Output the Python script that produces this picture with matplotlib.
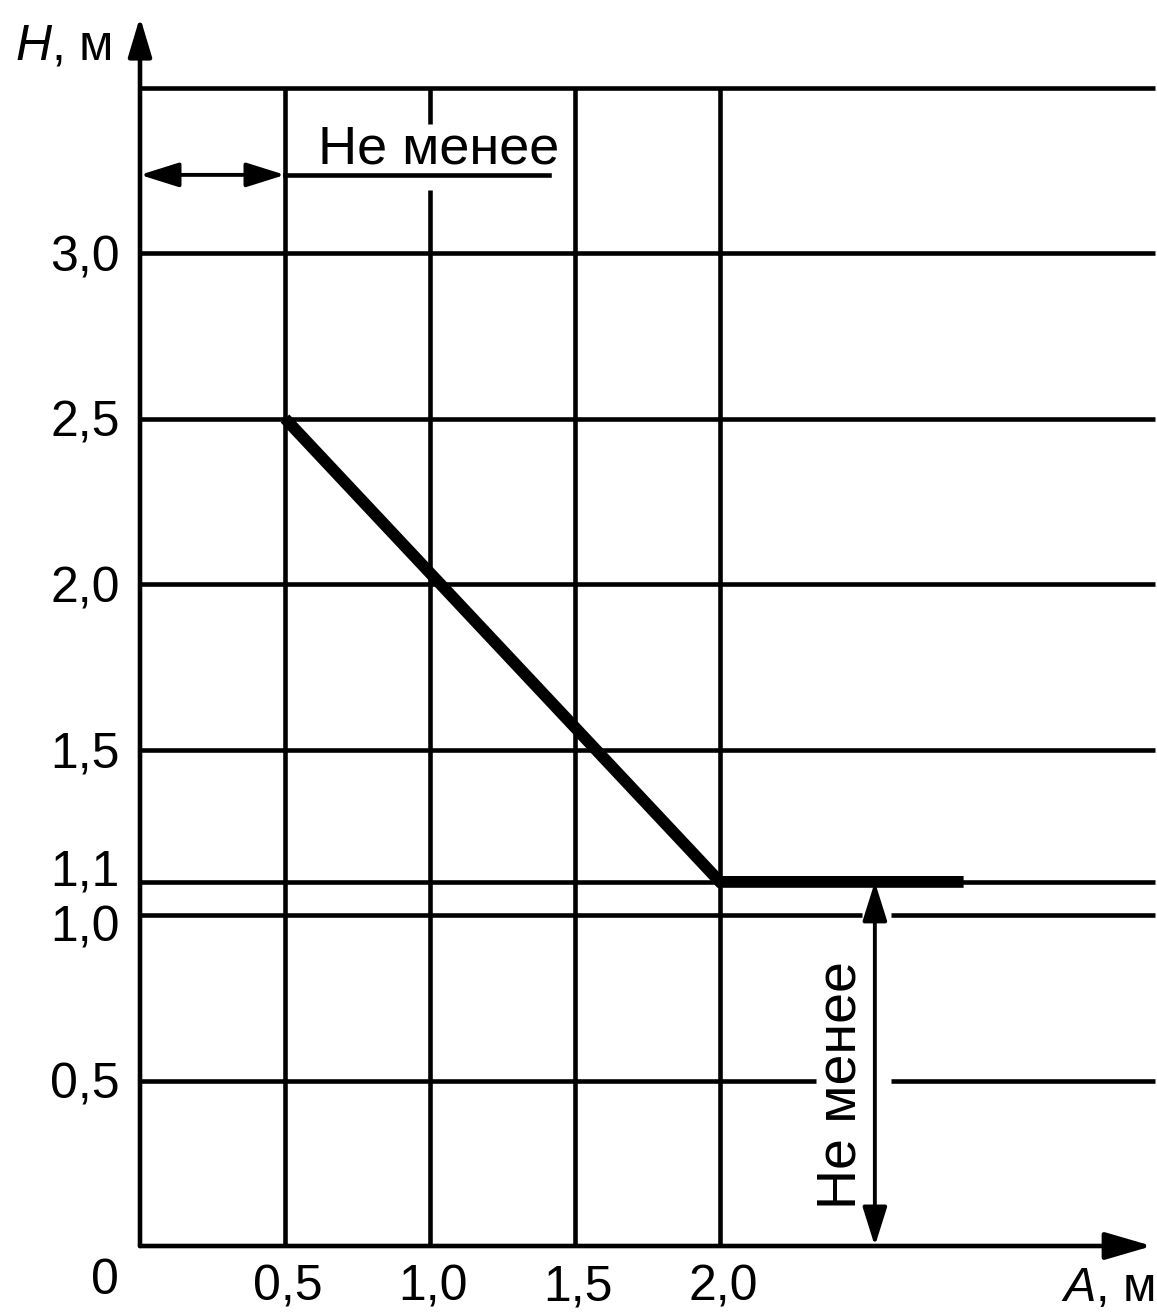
"""Height vs distance requirement chart (H, м against A, м)."""

import matplotlib
matplotlib.use('Agg')
import matplotlib.pyplot as plt

plt.rcParams['font.family'] = ['Liberation Sans', 'DejaVu Sans']
plt.rcParams['mathtext.fontset'] = 'custom'
plt.rcParams['mathtext.it'] = 'Liberation Sans:italic'
plt.rcParams['mathtext.rm'] = 'Liberation Sans'

# Grid levels
h_levels = [0.5, 1.0, 1.1, 1.5, 2.0, 2.5, 3.0, 3.5]
v_levels = [0.5, 1.0, 1.5, 2.0]
grid_right = 3.5
grid_top = 3.5

# gaps left in the grid lines around the labels/arrows
h_gaps = {0.5: (2.33, 2.59), 1.0: (2.49, 2.59)}
v_gaps = {1.0: (3.19, 3.39)}

# Tick labels
ytick_vals = [3.0, 2.5, 2.0, 1.5, 1.1, 1.0, 0.5]
ytick_labels = ['3,0', '2,5', '2,0', '1,5', '1,1', '1,0', '0,5']
xtick_vals = [0.5, 1.0, 1.5, 2.0]
xtick_labels = ['0,5', '1,0', '1,5', '2,0']

# Requirement curve: diagonal then flat at 1.1
curve_x = [0.5, 2.0, 2.84]
curve_y = [2.5, 1.1, 1.1]

# Dimension marks
top_dim_y = 3.236
top_dim_x = (0.0, 0.5)
top_underline_end = 1.41
side_dim_x = 2.534
side_dim_y = (1.1, 0.0)
dim_text = 'Не менее'

# figure maps pixels straight onto data units
W, H = 1157, 1315
x0_px, x_scale = 140, 290
y0_px, y_scale = 1246, 331

fig = plt.figure(figsize=(W / 100, H / 100), dpi=100)
ax = fig.add_axes([0, 0, 1, 1])
ax.set_xlim(-x0_px / x_scale, (W - x0_px) / x_scale)
ax.set_ylim((y0_px - H) / y_scale, y0_px / y_scale)
ax.axis('off')

lw = 3.3
col = 'black'

# horizontal grid
for y in h_levels:
    if y in h_gaps:
        g0, g1 = h_gaps[y]
        ax.plot([0, g0], [y, y], color=col, lw=lw, solid_capstyle='butt')
        ax.plot([g1, grid_right], [y, y], color=col, lw=lw, solid_capstyle='butt')
    else:
        ax.plot([0, grid_right], [y, y], color=col, lw=lw, solid_capstyle='butt')

# vertical grid
for x in v_levels:
    if x in v_gaps:
        g0, g1 = v_gaps[x]
        ax.plot([x, x], [0, g0], color=col, lw=lw, solid_capstyle='butt')
        ax.plot([x, x], [g1, grid_top], color=col, lw=lw, solid_capstyle='butt')
    else:
        ax.plot([x, x], [0, grid_top], color=col, lw=lw, solid_capstyle='butt')

# axes with arrows
ax.annotate('', xy=(0, 3.713), xytext=(0, 0),
            arrowprops=dict(arrowstyle='-|>,head_length=0.6,head_width=0.18',
                            color=col, lw=lw, mutation_scale=40,
                            shrinkA=0, shrinkB=0))
ax.annotate('', xy=(3.49, 0), xytext=(0, 0),
            arrowprops=dict(arrowstyle='-|>,head_length=0.72,head_width=0.21',
                            color=col, lw=lw, mutation_scale=40,
                            shrinkA=0, shrinkB=0))

# thick requirement curve
ax.plot(curve_x, curve_y, color=col, lw=8.5, solid_capstyle='butt',
        solid_joinstyle='miter')

# top dimension: arrow 0..0.5 and underline under the text
dim_kw = dict(arrowstyle='<|-|>,head_length=0.7,head_width=0.22', color=col,
              lw=2.8, mutation_scale=34, shrinkA=0, shrinkB=0)
ax.annotate('', xy=(top_dim_x[0], top_dim_y), xytext=(top_dim_x[1], top_dim_y),
            arrowprops=dim_kw)
ax.plot([top_dim_x[1], top_underline_end], [top_dim_y, top_dim_y],
        color=col, lw=lw)
ax.text(0.614, top_dim_y + 0.035, dim_text, fontsize=39, ha='left',
        va='baseline')

# side dimension: 0..1.1 at the right
ax.annotate('', xy=(side_dim_x, side_dim_y[0]), xytext=(side_dim_x, side_dim_y[1]),
            arrowprops=dim_kw)
ax.text(2.42, 0.485, dim_text, fontsize=40, rotation=90, ha='center',
        va='center')

# tick labels
yoffs = {1.1: 14, 1.0: -9}
for v, lab in zip(ytick_vals, ytick_labels):
    ax.annotate(lab, xy=(-0.069, v), xytext=(0, yoffs.get(v, 0)),
                textcoords='offset pixels', ha='right', va='center_baseline',
                fontsize=36)
for v, lab in zip(xtick_vals, xtick_labels):
    ax.text(v + 0.01, -0.109, lab, ha='center', va='center_baseline',
            fontsize=36)
ax.text(-0.12, -0.09, '0', ha='center', va='center_baseline', fontsize=36)

# axis names
ax.text(-0.43, 3.64, r'$\mathit{H}$, м', ha='left', va='center_baseline',
        fontsize=36)
ax.text(3.5, -0.165, r'$\mathit{A}$, м', ha='right', va='baseline',
        fontsize=35)

plt.savefig('out.png', dpi=100)
